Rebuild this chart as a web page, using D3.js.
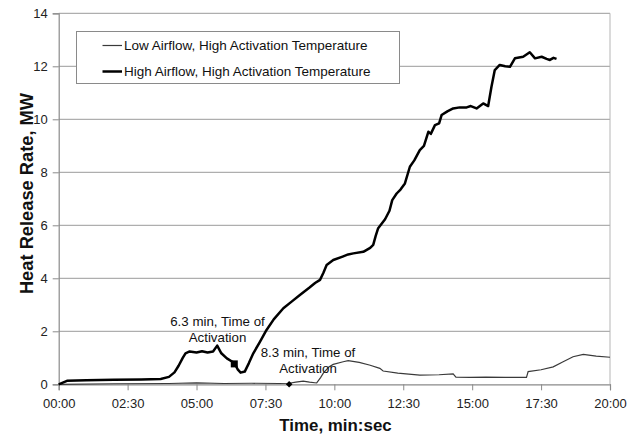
<!DOCTYPE html>
<html>
<head>
<meta charset="utf-8">
<script src="https://cdn.jsdelivr.net/npm/d3@7"></script>
<style>
  html, body { margin: 0; padding: 0; background: #fff; }
  svg { display: block; font-family: Arial, "Liberation Sans", sans-serif; }
</style>
</head>
<body>
<div id="chart"></div>
<script>
// time in minutes, heat release rate in MW
const lowTime = [0, 2, 4, 5, 6, 7, 8, 8.36, 8.6, 8.87, 9.1, 9.36, 9.5, 9.6, 9.8, 9.96, 10.32, 10.5, 10.9, 11.3, 11.65, 11.77, 12.3, 13.1, 13.8, 14.31, 14.41, 14.92, 15.5, 16.2, 16.97, 17.03, 17.5, 17.94, 18.3, 18.66, 19.03, 19.5, 20];
const lowHRR = [0, 0.02, 0.03, 0.05, 0.03, 0.04, 0.03, 0.04, 0.08, 0.12, 0.08, 0.05, 0.25, 0.42, 0.65, 0.75, 0.85, 0.89, 0.83, 0.72, 0.6, 0.5, 0.42, 0.35, 0.36, 0.39, 0.27, 0.26, 0.27, 0.26, 0.26, 0.48, 0.55, 0.66, 0.85, 1.04, 1.13, 1.06, 1.02];

const highTime = [0, 0.3, 1, 2, 3, 3.7, 4.0, 4.2, 4.35, 4.5, 4.6, 4.75, 5.0, 5.2, 5.4, 5.6, 5.75, 5.9, 6.1, 6.3, 6.4, 6.5, 6.6, 6.75, 6.9, 7.06, 7.3, 7.54, 7.8, 8.15, 8.45, 8.75, 9.1, 9.3, 9.48, 9.6, 9.72, 9.96, 10.3, 10.5, 10.69, 11.05, 11.3, 11.41, 11.5, 11.59, 11.84, 12.0, 12.1, 12.26, 12.4, 12.56, 12.74, 12.9, 13.1, 13.25, 13.41, 13.5, 13.65, 13.8, 13.89, 14.1, 14.31, 14.55, 14.8, 14.95, 15.16, 15.4, 15.58, 15.7, 15.82, 16.0, 16.2, 16.37, 16.55, 16.85, 17.09, 17.28, 17.52, 17.7, 17.82, 17.95, 18.06];
const highHRR = [0, 0.13, 0.15, 0.17, 0.18, 0.2, 0.28, 0.45, 0.7, 1.0, 1.17, 1.24, 1.2, 1.25, 1.2, 1.24, 1.46, 1.17, 0.98, 0.85, 0.75, 0.55, 0.44, 0.48, 0.8, 1.17, 1.6, 2.05, 2.45, 2.87, 3.12, 3.37, 3.65, 3.82, 3.94, 4.2, 4.5, 4.69, 4.82, 4.9, 4.94, 5.0, 5.15, 5.26, 5.6, 5.89, 6.23, 6.55, 6.95, 7.2, 7.35, 7.58, 8.21, 8.45, 8.84, 9.0, 9.53, 9.45, 9.78, 9.85, 10.16, 10.3, 10.41, 10.45, 10.45, 10.5, 10.41, 10.6, 10.5, 11.23, 11.86, 12.05, 12.0, 11.98, 12.3, 12.36, 12.53, 12.3, 12.36, 12.28, 12.24, 12.32, 12.28];

const seriesNames = ["Low Airflow, High Activation Temperature", "High Airflow, High Activation Temperature"];
const xTicks = [0, 2.5, 5, 7.5, 10, 12.5, 15, 17.5, 20];
const yTicks = [0, 2, 4, 6, 8, 10, 12, 14];

// activation markers
const activationHigh = { t: 6.37, v: 0.77, label: ["6.3 min, Time of", "Activation"] };
const activationLow = { t: 8.36, v: 0.0, label: ["8.3 min, Time of", "Activation"] };

const W = 639, H = 434;
const margin = { left: 58.7, right: 29, top: 13.3, bottom: 49.7 };

const svg = d3.select("#chart").append("svg")
    .attr("width", W).attr("height", H);

const x = d3.scaleLinear().domain([0, 20]).range([margin.left, W - margin.right]);
const y = d3.scaleLinear().domain([0, 14]).range([H - margin.bottom, margin.top]);

const fmt = m => {
    const mm = Math.floor(m), ss = Math.round((m - mm) * 60);
    return String(mm).padStart(2, "0") + ":" + String(ss).padStart(2, "0");
};

// gridlines
svg.append("g").selectAll("line").data(yTicks.filter(d => d > 0)).join("line")
    .attr("x1", x(0)).attr("x2", x(20))
    .attr("y1", d => y(d)).attr("y2", d => y(d))
    .attr("stroke", "#9a9a9a").attr("stroke-width", 1);

// right border
svg.append("line")
    .attr("x1", x(20)).attr("x2", x(20)).attr("y1", y(14)).attr("y2", y(0))
    .attr("stroke", "#b5b5b5").attr("stroke-width", 1);

// axes
const xAxis = svg.append("g")
    .attr("transform", `translate(0,${y(0)})`)
    .call(d3.axisBottom(x).tickValues(xTicks).tickFormat(fmt).tickSize(6).tickPadding(8));
const yAxis = svg.append("g")
    .attr("transform", `translate(${x(0)},0)`)
    .call(d3.axisLeft(y).tickValues(yTicks).tickSize(6).tickPadding(5));
[xAxis, yAxis].forEach(g => {
    g.select(".domain").attr("stroke", "#8a8a8a").attr("stroke-width", 1.2);
    g.selectAll(".tick line").attr("stroke", "#8a8a8a");
    g.selectAll(".tick text").attr("font-size", 13).attr("fill", "#222")
        .attr("font-family", "Arial, 'Liberation Sans', sans-serif");
});

// axis titles
svg.append("text")
    .attr("x", 335.5).attr("y", 431)
    .attr("text-anchor", "middle")
    .attr("font-size", 16.9).attr("font-weight", "bold").attr("fill", "#111")
    .text("Time, min:sec");
svg.append("text")
    .attr("transform", "translate(33,193.5) rotate(-90)")
    .attr("text-anchor", "middle")
    .attr("font-size", 18.3).attr("font-weight", "bold").attr("fill", "#111")
    .text("Heat Release Rate, MW");

// lines
const line = d3.line().x(d => x(d[0])).y(d => y(d[1]));
svg.append("path")
    .datum(d3.zip(lowTime, lowHRR))
    .attr("d", line).attr("fill", "none")
    .attr("stroke", "#3a3a3a").attr("stroke-width", 1.2);
svg.append("path")
    .datum(d3.zip(highTime, highHRR))
    .attr("d", line).attr("fill", "none")
    .attr("stroke", "#000").attr("stroke-width", 2.5)
    .attr("stroke-linejoin", "round");

// activation markers
svg.append("rect")
    .attr("x", x(activationHigh.t) - 3.5).attr("y", y(activationHigh.v) - 3.5)
    .attr("width", 7).attr("height", 7).attr("fill", "#000");
svg.append("path")
    .attr("d", d3.symbol(d3.symbolDiamond2, 28)())
    .attr("transform", `translate(${x(activationLow.t)},${y(activationLow.v)})`)
    .attr("fill", "#000");

// annotations
function annotate(cx, cy, lines) {
    const t = svg.append("text")
        .attr("text-anchor", "middle").attr("font-size", 13.3).attr("fill", "#111");
    lines.forEach((s, i) => t.append("tspan").attr("x", cx).attr("y", cy + i * 16.6).text(s));
}
annotate(217.5, 325.5, activationHigh.label);
annotate(308, 356.5, activationLow.label);

// legend
const lg = svg.append("g");
lg.append("rect")
    .attr("x", 76.5).attr("y", 31.5).attr("width", 323).attr("height", 52)
    .attr("fill", "#fff").attr("stroke", "#8a8a8a").attr("stroke-width", 1);
const widths = [1.2, 2.5];
const colors = ["#3a3a3a", "#000"];
seriesNames.forEach((name, i) => {
    const ly = 45.5 + i * 26;
    lg.append("line")
        .attr("x1", 102.5).attr("x2", 122).attr("y1", ly).attr("y2", ly)
        .attr("stroke", colors[i]).attr("stroke-width", widths[i]);
    lg.append("text")
        .attr("x", 124).attr("y", ly + 4.8)
        .attr("font-size", 13.5).attr("fill", "#111")
        .text(name);
});
</script>
</body>
</html>
